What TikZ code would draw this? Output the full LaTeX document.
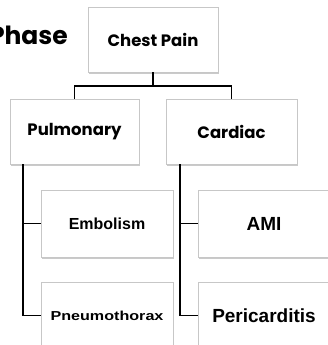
\documentclass[tikz,border=0pt]{standalone}
\usepackage{fontspec}
\setmainfont{Liberation Sans}
\newfontfamily\comicfont{Poppins}
\usetikzlibrary{shadows}
\begin{document}
\begin{tikzpicture}[x=1pt,y=-1pt,
  box/.style={draw=black!22, fill=white, line width=0.8pt, inner sep=0pt,
    drop shadow={shadow xshift=1.2pt, shadow yshift=-1.5pt, fill=black!35, opacity=0.6}},
  topbox/.style={box, font=\comicfont\fontsize{16.5}{18}\selectfont\bfseries},
  leafbox/.style={box, minimum width=132pt, minimum height=67pt, font=\fontsize{16}{18}\selectfont\bfseries},
  conn/.style={draw=black, line width=1.3pt}]
\useasboundingbox (0,0) rectangle (328,345);
\node[anchor=base east, inner sep=0pt, font=\comicfont\fontsize{25}{29}\selectfont\bfseries] (phase) at (68,45) {Phase};
\node[topbox, minimum width=130pt, minimum height=65pt] (chest) at (153,39.5) {Chest Pain};
\node[topbox, minimum width=129pt, minimum height=65pt] (pulm) at (74.5,131.5) {Pulmonary};
\node[topbox, minimum width=131pt, minimum height=65pt] (card) at (231.5,131.5) {Cardiac};
\node[leafbox] (emb) at (107,223.5) {Embolism};
\node[leafbox] (pneu) at (107,315.5) {\scalebox{1.24}[1]{\fontsize{13}{15}\selectfont Pneumothorax}};
\node[leafbox, font=\fontsize{19}{21}\selectfont\bfseries] (ami) at (264,223.5) {AMI};
\node[leafbox, font=\fontsize{19}{21}\selectfont\bfseries] (peri) at (264,315.5) {Pericarditis};
\coordinate (j) at (153,86);
\coordinate (pl) at (23,164);
\coordinate (cl) at (180,164);
\draw[conn] (chest.south) -- (j) -| (pulm.north);
\draw[conn] (j) -| (card.north);
\draw[conn] (pl) |- (emb.west);
\draw[conn] (pl) |- (pneu.west);
\draw[conn] (cl) |- (ami.west);
\draw[conn] (cl) |- (peri.west);
\end{tikzpicture}
\end{document}
